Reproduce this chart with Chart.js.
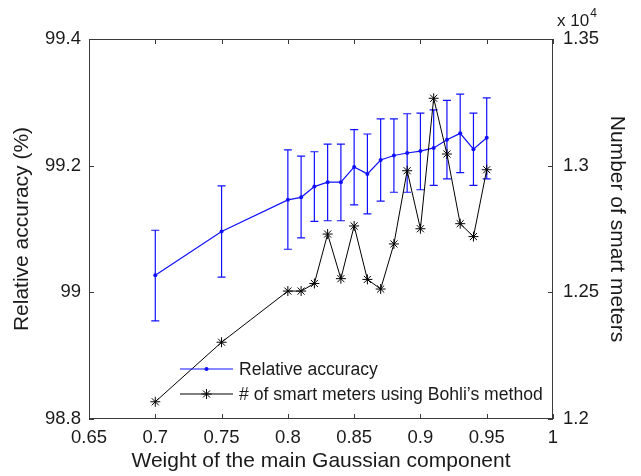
<!DOCTYPE html>
<html>
<head>
<meta charset="utf-8">
<script src="https://cdn.jsdelivr.net/npm/chart.js@4.4.1/dist/chart.umd.min.js"></script>
<style>
  html, body { margin: 0; padding: 0; background: #fff; }
  canvas { display: block; }
</style>
</head>
<body>
<canvas id="chart" width="641" height="476"></canvas>
<script>
// ── Data ───────────────────────────────────────────────
const weights = [0.7, 0.75, 0.8, 0.81, 0.82, 0.83, 0.84, 0.85, 0.86, 0.87, 0.88, 0.89, 0.9, 0.91, 0.92, 0.93, 0.94, 0.95];
const accuracy = [99.027, 99.096, 99.146, 99.150, 99.167, 99.174, 99.174, 99.198, 99.187, 99.209, 99.216, 99.220, 99.223, 99.228, 99.241, 99.251, 99.226, 99.244];
const accuracyHigh = [99.098, 99.168, 99.225, 99.215, 99.222, 99.234, 99.234, 99.257, 99.250, 99.274, 99.274, 99.282, 99.283, 99.288, 99.303, 99.313, 99.283, 99.307];
const accuracyLow = [98.955, 99.024, 99.068, 99.086, 99.112, 99.113, 99.113, 99.138, 99.124, 99.144, 99.158, 99.158, 99.162, 99.169, 99.179, 99.189, 99.169, 99.179];
const meterCounts = [12068, 12303, 12505, 12505, 12535, 12730, 12554, 12762, 12551, 12513, 12691, 12980, 12751, 13266, 13046, 12771, 12720, 12984];

const xTicks = [0.65, 0.7, 0.75, 0.8, 0.85, 0.9, 0.95, 1];
const accTicks = [98.8, 99, 99.2, 99.4];
const meterTicks = [12000, 12500, 13000, 13500];

const FONT = "'Liberation Sans', Arial, sans-serif";
const AXIS_COLOR = '#3a3a3a';
const BLUE = '#1010ff';

Chart.defaults.font.family = FONT;
Chart.defaults.color = '#1a1a1a';

// ── Plugins ───────────────────────────────────────────
const errorBars = {
    id: 'errorBars',
    beforeDatasetsDraw(chart) {
        const { ctx } = chart;
        const xs = chart.scales.x, ys = chart.scales.y;
        ctx.save();
        ctx.strokeStyle = BLUE;
        ctx.lineWidth = 1.2;
        weights.forEach((w, i) => {
            const x = xs.getPixelForValue(w);
            const top = ys.getPixelForValue(accuracyHigh[i]);
            const bot = ys.getPixelForValue(accuracyLow[i]);
            ctx.beginPath();
            ctx.moveTo(x, top); ctx.lineTo(x, bot);
            ctx.moveTo(x - 4, top); ctx.lineTo(x + 4, top);
            ctx.moveTo(x - 4, bot); ctx.lineTo(x + 4, bot);
            ctx.stroke();
        });
        ctx.restore();
    }
};

const frame = {
    id: 'frame',
    afterDraw(chart) {
        const { ctx, chartArea: a } = chart;
        const xs = chart.scales.x, ys = chart.scales.y, y2 = chart.scales.y2;
        const len = 5;
        ctx.save();
        ctx.strokeStyle = AXIS_COLOR;
        ctx.lineWidth = 1;
        ctx.strokeRect(a.left + 0.5, a.top + 0.5, a.right - a.left - 1, a.bottom - a.top - 1);
        ctx.beginPath();
        xTicks.forEach(v => {
            const x = Math.round(xs.getPixelForValue(v)) + 0.5;
            ctx.moveTo(x, a.bottom); ctx.lineTo(x, a.bottom - len);
            ctx.moveTo(x, a.top); ctx.lineTo(x, a.top + len);
        });
        accTicks.forEach(v => {
            const y = Math.round(ys.getPixelForValue(v)) + 0.5;
            ctx.moveTo(a.left, y); ctx.lineTo(a.left + len, y);
        });
        meterTicks.forEach(v => {
            const y = Math.round(y2.getPixelForValue(v)) + 0.5;
            ctx.moveTo(a.right, y); ctx.lineTo(a.right - len, y);
        });
        ctx.stroke();

        // exponent label of the right axis
        ctx.fillStyle = '#1a1a1a';
        ctx.textBaseline = 'middle';
        ctx.textAlign = 'left';
        ctx.font = '17px ' + FONT;
        ctx.fillText('x 10', a.right + 4, a.top - 18);
        const w = ctx.measureText('x 10').width;
        ctx.font = '12px ' + FONT;
        ctx.fillText('4', a.right + 4 + w + 1, a.top - 25);
        ctx.restore();
    }
};

const innerLegend = {
    id: 'innerLegend',
    afterDraw(chart) {
        const { ctx, chartArea: a } = chart;
        const rows = [chart.data.datasets[1], chart.data.datasets[0]];
        const x0 = a.left + 91, x1 = a.left + 144;
        ctx.save();
        ctx.font = '17.6px ' + FONT;
        ctx.textBaseline = 'middle';
        ctx.textAlign = 'left';
        rows.forEach((ds, i) => {
            const y = a.bottom - 50 + i * 25;
            ctx.strokeStyle = ds.borderColor;
            ctx.fillStyle = ds.pointBackgroundColor;
            ctx.lineWidth = ds.borderWidth;
            ctx.beginPath();
            ctx.moveTo(x0, y); ctx.lineTo(x1, y);
            ctx.stroke();
            Chart.helpers.drawPoint(ctx, {
                pointStyle: ds.pointStyle, radius: ds.pointRadius,
                borderWidth: ds.pointBorderWidth, rotation: 0
            }, (x0 + x1) / 2, y);
            ctx.fillStyle = '#1a1a1a';
            ctx.fillText(ds.label, x1 + 6, y + 1);
        });
        ctx.restore();
    }
};

// ── Chart ─────────────────────────────────────────────
new Chart(document.getElementById('chart'), {
    type: 'line',
    data: {
        datasets: [
            {
                label: '# of smart meters using Bohli\u2019s method',
                data: weights.map((w, i) => ({ x: w, y: meterCounts[i] })),
                yAxisID: 'y2',
                borderColor: '#000',
                borderWidth: 1,
                pointStyle: 'star',
                pointRadius: 5,
                pointBorderWidth: 1,
                pointBorderColor: '#000',
                pointBackgroundColor: '#000',
                tension: 0,
                order: 0
            },
            {
                label: 'Relative accuracy',
                data: weights.map((w, i) => ({ x: w, y: accuracy[i] })),
                yAxisID: 'y',
                borderColor: BLUE,
                borderWidth: 1.2,
                pointStyle: 'circle',
                pointRadius: 2,
                pointBorderWidth: 0,
                pointBorderColor: BLUE,
                pointBackgroundColor: BLUE,
                tension: 0,
                order: 1
            }
        ]
    },
    options: {
        responsive: false,
        animation: false,
        layout: { padding: { top: 39, left: 0, right: 0, bottom: 0 } },
        plugins: { legend: { display: false }, tooltip: { enabled: false } },
        scales: {
            x: {
                type: 'linear',
                min: 0.65, max: 1,
                afterBuildTicks: s => { s.ticks = xTicks.map(v => ({ value: v })); },
                afterFit: s => { s.height = 57; },
                grid: { display: false, drawTicks: false },
                border: { display: false },
                ticks: {
                    padding: 8,
                    maxRotation: 0,
                    font: { size: 18.5 },
                    color: '#1a1a1a',
                    callback: v => String(+v.toFixed(2))
                },
                title: {
                    display: true,
                    text: 'Weight of the main Gaussian component',
                    font: { size: 21 },
                    color: '#1a1a1a',
                    padding: { top: 0, bottom: 2 }
                }
            },
            y: {
                position: 'left',
                min: 98.8, max: 99.4,
                afterBuildTicks: s => { s.ticks = accTicks.map(v => ({ value: v })); },
                afterFit: s => { s.width = 89; },
                grid: { display: false, drawTicks: false },
                border: { display: false },
                ticks: {
                    padding: 8,
                    font: { size: 18.5 },
                    color: '#1a1a1a',
                    callback: v => String(+v.toFixed(1))
                },
                title: {
                    display: true,
                    text: 'Relative accuracy (%)',
                    font: { size: 21 },
                    color: '#1a1a1a',
                    padding: { top: 10, bottom: 0 }
                }
            },
            y2: {
                position: 'right',
                min: 12000, max: 13500,
                afterBuildTicks: s => { s.ticks = meterTicks.map(v => ({ value: v })); },
                afterFit: s => { s.width = 88; },
                grid: { display: false, drawTicks: false },
                border: { display: false },
                ticks: {
                    padding: 10,
                    font: { size: 18.5 },
                    color: '#1a1a1a',
                    callback: v => String(+(v / 10000).toFixed(2))
                },
                title: {
                    display: true,
                    text: 'Number of smart meters',
                    font: { size: 21 },
                    color: '#1a1a1a',
                    padding: { top: 12, bottom: 0 }
                }
            }
        }
    },
    plugins: [errorBars, frame, innerLegend]
});
</script>
</body>
</html>
